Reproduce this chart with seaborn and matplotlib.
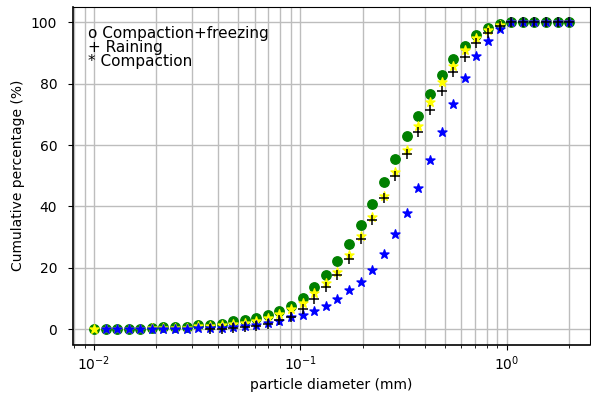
import matplotlib
matplotlib.use("Agg")
import matplotlib.pyplot as plt
import seaborn as sns

# Sieve sizes (mm)
sizes = [0.0100, 0.0114, 0.0130, 0.0147, 0.0168, 0.0191, 0.0217, 0.0247, 0.0281, 0.0320,
         0.0364, 0.0415, 0.0472, 0.0537, 0.0611, 0.0695, 0.0791, 0.0901, 0.1025, 0.1166,
         0.1327, 0.1510, 0.1719, 0.1956, 0.2226, 0.2533, 0.2882, 0.3280, 0.3733, 0.4248,
         0.4834, 0.5501, 0.6261, 0.7125, 0.8108, 0.9227, 1.0500, 1.1949, 1.3598, 1.5474,
         1.7610, 2.0000]

# Cumulative passing (%)
compaction_freezing = [0, 0, 0, 0.1, 0.2, 0.5, 0.6, 0.6, 0.7, 1.2,
                       1.5, 1.8, 2.5, 3.0, 3.6, 4.6, 5.9, 7.6, 10.3, 13.6,
                       17.7, 22.1, 27.7, 34.1, 40.8, 47.9, 55.3, 63.0, 69.6, 76.7,
                       82.9, 88.0, 92.4, 95.9, 98.1, 99.6, 100, 100, 100, 100,
                       100, 100]
reference_fit = [0, 0, 0, 0.1, 0.2, 0.4, 0.5, 0.5, 0.5, 0.9,
                 1.1, 1.2, 1.6, 2.1, 2.7, 3.7, 4.9, 6.6, 8.6, 11.8,
                 15.2, 18.6, 24.2, 30.4, 36.5, 43.3, 51.2, 58.4, 66.3, 73.9,
                 80.4, 85.9, 91.0, 94.9, 97.5, 99.2, 100, 100, 100, 100,
                 100, 100]
compaction = [0, 0, 0, 0, 0, 0.1, 0.1, 0.2, 0.3, 0.4,
              0.5, 0.8, 1.0, 1.3, 2.0, 2.7, 4.0, 4.6, 5.9, 7.6,
              9.8, 12.7, 15.3, 19.2, 24.4, 30.9, 37.9, 46.1, 55.2, 64.2,
              73.3, 81.9, 89.1, 94.0, 97.8, 100, 100, 100, 100, 100,
              100]
raining = [0, 0.1, 0.3, 0.7, 1.0, 1.6, 2.9, 3.9, 6.7, 9.8,
           13.6, 17.8, 23.0, 29.3, 35.7, 42.8, 49.8, 57.1, 64.2, 71.5,
           77.7, 83.7, 88.8, 93.2, 96.4, 98.9, 100, 100, 100, 100,
           100, 100]

sizes_compaction = sizes[1:]
sizes_raining = sizes[10:]

fig = plt.figure(figsize=(5.91, 4.0), dpi=100)
ax = fig.add_axes([72.5 / 591, 1 - 344.5 / 400, (590 - 72.5) / 591, (344.5 - 7) / 400])
ax.set_axisbelow(True)

sns.scatterplot(x=sizes, y=compaction_freezing, marker="o", color="green",
                edgecolor="green", linewidth=1, s=46, ax=ax)
sns.scatterplot(x=sizes, y=reference_fit, marker="*", color="yellow",
                edgecolor="yellow", linewidth=1, s=46, ax=ax)
sns.scatterplot(x=sizes_compaction, y=compaction, marker="*", color="blue",
                edgecolor="blue", linewidth=1, s=46, ax=ax)
sns.scatterplot(x=sizes_raining, y=raining, marker="+", color="black",
                linewidth=1.1, s=46, ax=ax)

ax.set_xscale("log")
ax.set_xlim(10 ** -2.104, 10 ** 0.403)
ax.set_ylim(-5, 105)
ax.set_yticks([0, 20, 40, 60, 80, 100])
ax.grid(True, which="both", axis="x", color="#bdbdbd", linewidth=1.0)
ax.grid(True, which="major", axis="y", color="#bdbdbd", linewidth=1.0)
ax.tick_params(axis="y", pad=7.5)
for side in ("left", "bottom"):
    ax.spines[side].set_linewidth(1.2)

ax.set_xlabel("particle diameter (mm)", fontsize=10)
ax.set_ylabel("Cumulative percentage (%)", fontsize=10)

ax.text(0.03, 0.945, "o Compaction+freezing\n+ Raining\n* Compaction",
        transform=ax.transAxes, ha="left", va="top", fontsize=11, linespacing=0.95)

fig.savefig("out.png", dpi=100)
